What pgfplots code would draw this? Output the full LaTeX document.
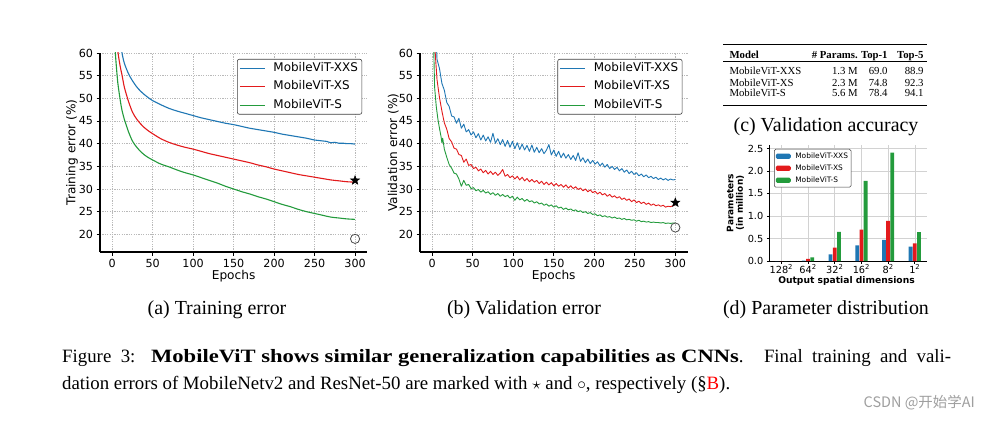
\documentclass[border=0pt]{standalone}
\usepackage{fontspec}
\setmainfont{Liberation Serif}
\newfontfamily\dv{DejaVu Sans}
\newfontfamily\cjk{Noto Sans CJK SC}
\usepackage{graphicx}
\usepackage{pgfplots}
\pgfplotsset{compat=1.18}

\definecolor{cB}{RGB}{31,119,180}
\definecolor{cR}{RGB}{227,26,28}
\definecolor{cG}{RGB}{35,155,60}

\pgfdeclareplotmark{fstar}{%
 \pgfpathmoveto{\pgfpointpolar{90}{\pgfplotmarksize}}%
 \pgfpathlineto{\pgfpointpolar{126}{0.42\pgfplotmarksize}}%
 \pgfpathlineto{\pgfpointpolar{162}{\pgfplotmarksize}}%
 \pgfpathlineto{\pgfpointpolar{198}{0.42\pgfplotmarksize}}%
 \pgfpathlineto{\pgfpointpolar{234}{\pgfplotmarksize}}%
 \pgfpathlineto{\pgfpointpolar{270}{0.42\pgfplotmarksize}}%
 \pgfpathlineto{\pgfpointpolar{306}{\pgfplotmarksize}}%
 \pgfpathlineto{\pgfpointpolar{342}{0.42\pgfplotmarksize}}%
 \pgfpathlineto{\pgfpointpolar{18}{\pgfplotmarksize}}%
 \pgfpathlineto{\pgfpointpolar{54}{0.42\pgfplotmarksize}}%
 \pgfpathclose
 \pgfusepathqfillstroke}

\pgfplotsset{
  curvestyle/.style={
    anchor=south west,
    scale only axis, height=199bp,
    xmin=-15, xmax=315, ymin=16.1, ymax=60,
    xtick={0,50,100,150,200,250,300}, ytick={20,25,30,35,40,45,50,55,60},
    axis x line*=bottom, axis y line*=left,
    axis line style={-, line width=1.1bp, black},
    tick align=outside, major tick length=3.5bp,
    tick style={line width=0.8bp, black},
    grid=major, grid style={line width=0.5bp, gray!55, dash pattern=on 1.2bp off 1.2bp},
    /pgf/number format/assume math mode=true,
    tick label style={font=\dv\fontsize{11.2}{13}\selectfont},
    label style={font=\dv\fontsize{12.2}{14}\selectfont},
    xlabel={Epochs},
    xlabel style={at={(axis description cs:0.5,-0.121)}, anchor=center},
    legend style={at={(0.981,0.970)}, anchor=north east, draw=black!75,
      rounded corners=2bp, line width=0.6bp,
      font=\dv\fontsize{12}{14}\selectfont,
      inner xsep=2bp, inner ysep=1bp, row sep=2.5bp,
      nodes={inner sep=2bp, text height=9bp, text depth=3bp}},
    legend cell align=left,
    legend image code/.code={\draw[##1, line width=1.2bp] (0bp,0bp) -- (25bp,0bp); \path (31bp,0bp);},
  },
  patchleg/.style={legend image code/.code={\fill[##1] (0bp,-2.6bp) rectangle (15bp,2.6bp); \path (18bp,0bp);}},
}

\begin{document}
\begin{tikzpicture}[x=1bp,y=1bp]
\path[use as bounding box] (0,0) rectangle (992,421);
\fill[white] (0,0) rectangle (992,421);

% ---------------- (a) Training error
\begin{axis}[curvestyle, at={(100bp,169bp)}, width=267.2bp,
  ylabel={Training error (\%)},
  ylabel style={at={(axis description cs:-0.105,0.5)}, anchor=center}]
\addplot[cB, line width=1.1bp, smooth] coordinates {(1,95)(5,78)(8,68)(10,63.5)(12,60.2)(15,57.8)(20,55.5)(25,53.9)(30,52.6)(35,51.6)(40,50.8)(45,50.1)(50,49.5)(60,48.6)(70,47.8)(80,47.2)(90,46.7)(100,46.2)(110,45.7)(120,45.3)(130,44.9)(140,44.5)(150,44.2)(160,43.8)(170,43.4)(180,43.1)(190,42.8)(200,42.5)(210,42.1)(220,41.8)(230,41.5)(240,41.2)(250,40.8)(255,40.7)(260,40.6)(265,40.5)(270,40.2)(275,40.3)(280,40.1)(285,40.1)(290,40.0)(295,40.0)(300,39.9)};
\addplot[cR, line width=1.1bp, smooth] coordinates {(1,90)(3,75)(5,66)(7,60.5)(10,57)(12,55.3)(15,52.5)(18,50.6)(20,49.4)(25,47.0)(30,45.5)(35,44.4)(40,43.5)(45,42.8)(50,42.2)(60,41.1)(70,40.3)(80,39.7)(90,39.2)(100,38.8)(110,38.3)(120,37.8)(130,37.4)(140,37.0)(150,36.6)(160,36.2)(170,35.8)(180,35.3)(190,34.9)(200,34.4)(210,34.0)(220,33.6)(230,33.2)(240,32.9)(250,32.6)(260,32.3)(270,32.0)(280,31.8)(290,31.6)(300,31.5)};
\addplot[cG, line width=1.1bp, smooth] coordinates {(1,85)(2,72)(3,64)(4,60)(5,57.5)(7,53.4)(10,49.6)(12,47.5)(15,45.4)(18,43.8)(20,42.7)(25,40.6)(30,39.3)(35,38.3)(40,37.5)(45,36.9)(50,36.4)(60,35.5)(70,34.9)(80,34.2)(90,33.6)(100,33.1)(110,32.5)(120,31.9)(130,31.3)(140,30.6)(150,30.0)(160,29.4)(170,28.9)(180,28.3)(190,27.8)(200,27.2)(210,26.6)(220,26.1)(230,25.5)(240,25.0)(250,24.6)(260,24.2)(270,23.8)(280,23.6)(290,23.4)(300,23.3)};
\addplot[forget plot, only marks, mark=fstar, mark size=4.8bp, draw=black, fill=black, line width=0.4bp] coordinates {(300,31.9)};
\addplot[forget plot, only marks, mark=o, mark size=4.6bp, draw=black!70, line width=0.8bp] coordinates {(300,19.0)};
\legend{MobileViT-XXS, MobileViT-XS, MobileViT-S}
\end{axis}

% ---------------- (b) Validation error
\begin{axis}[curvestyle, at={(420bp,169bp)}, width=267.5bp,
  ylabel={Validation error (\%)},
  ylabel style={at={(axis description cs:-0.1,0.5)}, anchor=center}]
\addplot[cB, line width=0.9bp, line join=round] coordinates {(1,95)(3,70)(6,58.6)(9,56.6)(12,53.3)(15,51.8)(18,49.1)(21,48.2)(24,46.1)(27,45.9)(30,44.5)(33,45.6)(36,43.4)(39,44.3)(42,42.6)(45,43.1)(48,41.9)(51,42.6)(54,41.3)(57,42.2)(60,40.8)(63,41.9)(66,40.6)(69,41.5)(72,40.3)(75,42.3)(78,40.1)(81,41.1)(84,39.8)(87,40.9)(90,39.4)(93,40.7)(96,39.2)(99,40.5)(102,38.9)(105,40.2)(108,38.7)(111,39.9)(114,38.6)(117,39.6)(120,38.3)(123,39.7)(126,38.1)(129,39.2)(132,38.0)(135,38.9)(138,37.8)(141,38.6)(144,39.8)(147,37.5)(150,38.6)(153,37.2)(156,38.3)(159,36.9)(162,37.9)(165,36.8)(168,37.6)(171,36.5)(174,37.4)(177,36.3)(180,38.0)(183,36.1)(186,36.9)(189,35.8)(192,36.6)(195,35.6)(198,36.3)(201,35.5)(204,36.0)(207,35.1)(210,35.7)(213,34.8)(216,35.4)(219,34.5)(222,35.0)(225,34.3)(228,34.8)(231,34.0)(234,34.5)(237,33.7)(240,34.2)(243,33.4)(246,33.9)(249,33.2)(252,33.6)(255,32.9)(258,33.3)(261,32.7)(264,33.1)(267,32.5)(270,32.8)(273,32.3)(276,32.6)(279,32.1)(282,32.4)(285,32.0)(288,32.3)(291,31.9)(294,32.2)(297,32.0)(300,32.1)};
\addplot[cR, line width=0.9bp, line join=round] coordinates {(1,85)(2,70)(3,62)(6,54.1)(9,50.2)(12,47.2)(15,44.6)(18,43.2)(21,41.1)(24,40.4)(27,39.0)(30,38.8)(33,37.6)(36,37.4)(39,35.9)(42,36.6)(45,35.2)(48,35.4)(51,34.5)(54,34.8)(57,34.0)(60,34.4)(63,33.6)(66,34.1)(69,33.3)(72,33.9)(75,33.2)(78,33.7)(81,33.0)(84,33.5)(87,34.3)(90,32.8)(93,33.2)(96,32.5)(99,32.9)(102,32.2)(105,32.8)(108,32.0)(111,32.6)(114,31.8)(117,32.3)(120,31.6)(123,32.1)(126,31.5)(129,31.9)(132,31.2)(135,31.7)(138,31.0)(141,31.5)(144,30.9)(147,31.4)(150,30.7)(153,31.2)(156,30.6)(159,31.0)(162,30.4)(165,30.9)(168,30.2)(171,30.7)(174,30.1)(177,30.5)(180,29.9)(183,30.2)(186,29.6)(189,30.0)(192,29.4)(195,29.8)(198,29.2)(201,29.5)(204,28.9)(207,29.3)(210,28.7)(213,29.0)(216,28.4)(219,28.8)(222,28.2)(225,28.5)(228,28.0)(231,28.3)(234,27.7)(237,28.0)(240,27.5)(243,27.8)(246,27.2)(249,27.6)(252,27.0)(255,27.3)(258,26.8)(261,27.1)(264,26.6)(267,26.9)(270,26.4)(273,26.7)(276,26.3)(279,26.5)(282,26.2)(285,26.4)(288,26.0)(291,26.2)(294,26.1)(297,26.3)(300,26.6)};
\addplot[cG, line width=0.9bp, line join=round] coordinates {(1,75)(2,60.5)(3,52.5)(5,48.3)(7,45.5)(9,43.4)(11,41.5)(12,40.2)(13,41.2)(15,38.8)(18,37.0)(21,35.4)(24,34.6)(27,33.5)(30,33.3)(33,32.2)(36,30.6)(39,31.9)(42,30.8)(45,31.0)(48,30.1)(51,30.3)(54,29.6)(57,29.9)(60,29.3)(63,29.7)(66,29.1)(69,29.4)(72,28.8)(75,29.2)(78,28.6)(81,29.0)(84,28.4)(87,28.8)(90,28.3)(93,28.6)(96,28.0)(99,28.4)(102,27.5)(105,28.2)(108,27.6)(111,27.9)(114,27.3)(117,27.7)(120,27.2)(123,27.4)(126,26.9)(129,27.2)(132,26.7)(135,26.9)(138,26.4)(141,26.7)(144,26.2)(147,26.5)(150,26.0)(153,26.3)(156,25.8)(159,26.0)(162,25.5)(165,25.8)(168,25.4)(171,25.6)(174,25.2)(177,25.4)(180,25.0)(183,25.2)(186,24.8)(189,25.0)(192,24.6)(195,24.8)(198,24.4)(201,24.5)(204,24.1)(207,24.3)(210,23.9)(213,24.1)(216,23.8)(219,23.9)(222,23.6)(225,23.8)(228,23.5)(231,23.6)(234,23.3)(237,23.5)(240,23.2)(243,23.3)(246,23.1)(249,23.2)(252,22.9)(255,23.1)(258,22.8)(261,22.9)(264,22.7)(267,22.8)(270,22.6)(273,22.7)(276,22.6)(279,22.6)(282,22.5)(285,22.6)(288,22.4)(291,22.5)(294,22.4)(297,22.5)(300,22.5)};
\addplot[forget plot, only marks, mark=fstar, mark size=4.8bp, draw=black, fill=black, line width=0.4bp] coordinates {(300,27.0)};
\addplot[forget plot, only marks, mark=o, mark size=4.6bp, draw=black!70, line width=0.8bp] coordinates {(300,21.5)};
\legend{MobileViT-XXS, MobileViT-XS, MobileViT-S}
\end{axis}

% ---------------- (d) Parameter distribution
\begin{axis}[at={(769.3bp,160bp)}, anchor=south west,
  scale only axis, width=157.5bp, height=116.1bp,
  xmin=-0.45, xmax=5.45, ymin=0, ymax=2.58,
  xtick={0,1,2,3,4,5},
  xticklabels={128\textsuperscript{2},64\textsuperscript{2},32\textsuperscript{2},16\textsuperscript{2},8\textsuperscript{2},1\textsuperscript{2}},
  ytick={0,0.5,1,1.5,2,2.5},
  yticklabel style={/pgf/number format/.cd, fixed, fixed zerofill, precision=1},
  xticklabel style={inner sep=1bp},
  axis x line*=bottom, axis y line*=left,
  axis line style={-, line width=1bp, black},
  tick align=outside, major tick length=2.5bp,
  tick style={line width=0.7bp, black},
  grid=major, grid style={line width=0.5bp, gray!35},
  /pgf/number format/assume math mode=true,
  tick label style={font=\dv\fontsize{9.8}{11}\selectfont},
  xlabel={Output spatial dimensions},
  xlabel style={at={(axis description cs:0.49,-0.172)}, anchor=center, font=\dv\bfseries\fontsize{9.2}{10}\selectfont},
  ylabel={Parameters\\(in million)},
  ylabel style={at={(axis description cs:-0.215,0.5)}, anchor=center, align=center, font=\dv\bfseries\fontsize{9}{9.5}\selectfont},
  legend style={at={(0.03,0.965)}, anchor=north west, draw=black!75,
     rounded corners=1.5bp, line width=0.5bp,
     font=\dv\fontsize{7.5}{8.5}\selectfont,
     inner xsep=1.5bp, inner ysep=1.9bp, row sep=1.8bp,
     nodes={inner sep=1.5bp, text height=5.5bp, text depth=1.7bp}},
  legend cell align=left,
]
\addplot[ybar, bar width=3.8bp, bar shift=-4.2bp, fill=cB, draw=none, patchleg] coordinates {(0,0)(1,0.01)(2,0.15)(3,0.35)(4,0.47)(5,0.32)};
\addplot[ybar, bar width=3.8bp, bar shift=0bp, fill=cR, draw=none, patchleg] coordinates {(0,0)(1,0.05)(2,0.30)(3,0.70)(4,0.89)(5,0.39)};
\addplot[ybar, bar width=3.8bp, bar shift=4.2bp, fill=cG, draw=none, patchleg] coordinates {(0,0)(1,0.08)(2,0.65)(3,1.78)(4,2.41)(5,0.64)};
\legend{MobileViT-XXS, MobileViT-XS, MobileViT-S}
\end{axis}

% ---------------- (c) table
\begin{scope}[font=\fontsize{10.8}{12}\selectfont]
\draw[line width=1bp] (723,376) -- (927,376);
\draw[line width=0.5bp] (723,359.3) -- (927,359.3);
\draw[line width=1bp] (723,316) -- (927,316);
\node[anchor=base west, inner sep=0] at (729.3,362.7) {\textbf{Model}};
\node[anchor=base east, inner sep=0] at (858,362.7) {\textbf{\# Params.}};
\node[anchor=base east, inner sep=0] at (887.8,362.7) {\textbf{Top-1}};
\node[anchor=base east, inner sep=0] at (923.8,362.7) {\textbf{Top-5}};
\node[anchor=base west, inner sep=0] at (729.3,346.7) {MobileViT-XXS};
\node[anchor=base east, inner sep=0] at (858,346.7) {1.3 M};
\node[anchor=base east, inner sep=0] at (887.8,346.7) {69.0};
\node[anchor=base east, inner sep=0] at (923.8,346.7) {88.9};
\node[anchor=base west, inner sep=0] at (729.3,335) {MobileViT-XS};
\node[anchor=base east, inner sep=0] at (858,335) {2.3 M};
\node[anchor=base east, inner sep=0] at (887.8,335) {74.8};
\node[anchor=base east, inner sep=0] at (923.8,335) {92.3};
\node[anchor=base west, inner sep=0] at (729.3,324.3) {MobileViT-S};
\node[anchor=base east, inner sep=0] at (858,324.3) {5.6 M};
\node[anchor=base east, inner sep=0] at (887.8,324.3) {78.4};
\node[anchor=base east, inner sep=0] at (923.8,324.3) {94.1};
\end{scope}

% ---------------- sub-captions
\begin{scope}[font=\fontsize{20}{24}\selectfont]
\node[anchor=center, inner sep=0] at (217,111) {(a) Training error};
\node[anchor=center, inner sep=0] at (524,111) {(b) Validation error};
\node[anchor=center, inner sep=0] at (826,294) {(c) Validation accuracy};
\node[anchor=center, inner sep=0] at (826,111) {(d) Parameter distribution};
\end{scope}

% ---------------- caption
\begin{scope}[font=\fontsize{18.9}{27}\selectfont]
\node[anchor=base west, inner sep=0] at (62,59) {\makebox[889bp][s]{Figure 3: \scalebox{1.2}[1]{\textbf{MobileViT shows similar generalization capabilities as CNNs}}. Final training and vali-}};
\node[anchor=base west, inner sep=0] at (62,32) {dation errors of MobileNetv2 and ResNet-50 are marked with $\star$ and $\circ$, respectively (\S\textcolor{red}{B}).};
\end{scope}

% ---------------- watermark
\node[anchor=east, inner sep=0, text=gray!75] at (975,18) {\cjk\fontsize{14.5}{16}\selectfont CSDN @开始学AI};
\end{tikzpicture}
\end{document}
